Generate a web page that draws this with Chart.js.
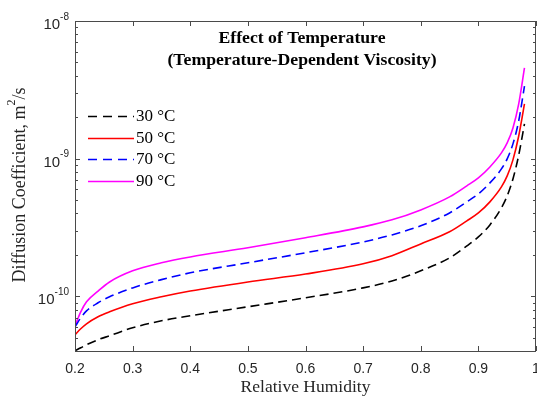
<!DOCTYPE html>
<html><head><meta charset="utf-8">
<script src="https://cdn.jsdelivr.net/npm/chart.js@4/dist/chart.umd.min.js"></script>
<style>html,body{margin:0;padding:0;background:#fff}canvas{display:block}</style>
</head><body>
<canvas id="c" width="537" height="397"></canvas>
<script>
// Relative humidity (x)
const rh = [0.20,0.21,0.22,0.24,0.26,0.30,0.35,0.40,0.50,0.60,0.70,0.75,0.80,0.85,0.88,0.90,0.92,0.94,0.95,0.96,0.97,0.98];
// Diffusion coefficient, m^2/s
const d30 = [4.02e-11,4.22e-11,4.44e-11,4.83e-11,5.16e-11,5.90e-11,6.63e-11,7.21e-11,8.38e-11,9.74e-11,1.15e-10,1.29e-10,1.53e-10,1.90e-10,2.32e-10,2.70e-10,3.30e-10,4.39e-10,5.36e-10,7.12e-10,1.06e-9,1.79e-9];
const d50 = [5.25e-11,5.80e-11,6.30e-11,7.09e-11,7.70e-11,8.81e-11,9.90e-11,1.09e-10,1.27e-10,1.45e-10,1.72e-10,1.97e-10,2.40e-10,2.94e-10,3.53e-10,4.03e-10,4.85e-10,6.23e-10,7.49e-10,9.79e-10,1.46e-9,2.50e-9];
const d70 = [6.00e-11,6.97e-11,7.83e-11,8.96e-11,9.90e-11,1.15e-10,1.32e-10,1.48e-10,1.75e-10,2.07e-10,2.48e-10,2.79e-10,3.25e-10,4.03e-10,4.85e-10,5.54e-10,6.66e-10,8.42e-10,9.95e-10,1.28e-9,1.88e-9,3.37e-9];
const d90 = [6.10e-11,7.70e-11,9.11e-11,1.09e-10,1.27e-10,1.53e-10,1.75e-10,1.93e-10,2.25e-10,2.66e-10,3.19e-10,3.59e-10,4.24e-10,5.27e-10,6.34e-10,7.24e-10,8.70e-10,1.10e-9,1.30e-9,1.67e-9,2.50e-9,4.56e-9];
const seriesLabels = ['30 °C','50 °C','70 °C','90 °C'];
const xTicks = [0.2,0.3,0.4,0.5,0.6,0.7,0.8,0.9,1.0];
const xTickLabels = ['0.2','0.3','0.4','0.5','0.6','0.7','0.8','0.9','1'];
const yDecadeExps = [-10,-9,-8];
const titleLines = ['Effect of Temperature','(Temperature-Dependent Viscosity)'];
const xTitle = 'Relative Humidity';
const yTitleParts = ['Diffusion Coefficient, m','2','/s'];

const pts = arr => arr.map((v,i)=>({x:rh[i],y:v}));
const styles = [
  {c:'#000000',dash:[9,5]},
  {c:'#ff0000',dash:[]},
  {c:'#0000ff',dash:[9,5]},
  {c:'#ff00ff',dash:[]}
];
const allData = [d30,d50,d70,d90];

const AX = '#4a4a4a';
const TXT = '#262626';
const SANS = '"Liberation Sans", Arial, sans-serif';
const SERIF = '"Liberation Serif", "Times New Roman", serif';

const deco = {
  id:'deco',
  afterDatasetsDraw(chart){
    const ctx = chart.ctx, a = chart.chartArea;
    const xs = chart.scales.x, ys = chart.scales.y;
    ctx.save();
    // title
    ctx.fillStyle = '#000';
    ctx.font = 'bold 17.7px ' + SERIF;
    ctx.textAlign = 'center'; ctx.textBaseline = 'middle';
    ctx.fillText(titleLines[0], 302, 38);
    ctx.fillText(titleLines[1], 302, 60);
    // legend
    ctx.font = '17px ' + SERIF;
    ctx.textAlign = 'left';
    for (let i=0;i<4;i++){
      const y = 116 + i*21.5;
      ctx.strokeStyle = styles[i].c; ctx.lineWidth = 1.6;
      ctx.setLineDash(styles[i].dash.length? [9,6] : []);
      ctx.beginPath(); ctx.moveTo(88, Math.round(y)+0.5); ctx.lineTo(134, Math.round(y)+0.5); ctx.stroke();
      ctx.setLineDash([]);
      ctx.fillStyle = '#000';
      ctx.fillText(seriesLabels[i], 136, y+1);
    }
    // frame
    ctx.strokeStyle = AX; ctx.lineWidth = 1;
    ctx.strokeRect(Math.round(a.left)+0.5, Math.round(a.top)+0.5, Math.round(a.right-a.left)-1, Math.round(a.bottom-a.top));
    // x ticks
    ctx.fillStyle = TXT; ctx.font = '14px ' + SANS;
    ctx.textAlign = 'center'; ctx.textBaseline = 'middle';
    xTicks.forEach((v,i)=>{
      const px = Math.round(xs.getPixelForValue(v))+0.5;
      ctx.beginPath();
      ctx.moveTo(px, a.bottom); ctx.lineTo(px, a.bottom-5);
      ctx.moveTo(px, a.top); ctx.lineTo(px, a.top+5);
      ctx.stroke();
      ctx.fillText(xTickLabels[i], xs.getPixelForValue(v), a.bottom+18);
    });
    // y ticks (log)
    for (let e=-11;e<=-8;e++){
      for (let m=1;m<=9;m++){
        const v = m*Math.pow(10,e);
        if (v < ys.min*0.999 || v > ys.max*1.001) continue;
        const py = Math.round(ys.getPixelForValue(v))+0.5;
        const L = m===1?5:3;
        ctx.beginPath();
        ctx.moveTo(a.left, py); ctx.lineTo(a.left+L, py);
        ctx.moveTo(a.right, py); ctx.lineTo(a.right-L, py);
        ctx.stroke();
      }
    }
    yDecadeExps.forEach(e=>{
      const py = ys.getPixelForValue(Math.pow(10,e));
      const sup = String(e);
      ctx.font = '10px ' + SANS;
      const ws = ctx.measureText(sup).width;
      ctx.textAlign = 'right'; ctx.textBaseline = 'middle';
      ctx.fillText(sup, 69, py-4);
      ctx.font = '15px ' + SANS;
      ctx.fillText('10', 69-ws, py+4);
    });
    // axis titles
    ctx.fillStyle = TXT;
    ctx.font = '17.5px ' + SERIF;
    ctx.textAlign = 'center'; ctx.textBaseline = 'middle';
    ctx.fillText(xTitle, (a.left+a.right)/2, 387);
    ctx.save();
    ctx.translate(20, (a.top+a.bottom)/2 - 1);
    ctx.rotate(-Math.PI/2);
    ctx.font = '18px ' + SERIF;
    const w0 = ctx.measureText(yTitleParts[0]).width;
    const w2 = ctx.measureText(yTitleParts[2]).width;
    ctx.font = '12px ' + SERIF;
    const w1 = ctx.measureText(yTitleParts[1]).width;
    const tot = w0+w1+w2;
    let x0 = -tot/2;
    ctx.textAlign = 'left';
    ctx.font = '18px ' + SERIF;
    ctx.fillText(yTitleParts[0], x0, 0);
    ctx.font = '12px ' + SERIF;
    ctx.fillText(yTitleParts[1], x0+w0, -8);
    ctx.font = '18px ' + SERIF;
    ctx.fillText(yTitleParts[2], x0+w0+w1, 0);
    ctx.restore();
    ctx.restore();
  }
};

new Chart(document.getElementById('c'), {
  type:'line',
  data:{
    datasets: allData.map((arr,i)=>({
      label: seriesLabels[i],
      data: pts(arr),
      borderColor: styles[i].c,
      backgroundColor: styles[i].c,
      borderWidth: 1.6,
      borderDash: styles[i].dash,
      pointRadius: 0,
      fill: false,
      cubicInterpolationMode: 'monotone'
    }))
  },
  options:{
    responsive:false,
    animation:false,
    events:[],
    layout:{padding:{left:75,top:21,right:1,bottom:46}},
    plugins:{legend:{display:false},tooltip:{enabled:false}},
    scales:{
      x:{type:'linear',min:0.2,max:1.0,display:false},
      y:{type:'logarithmic',min:4e-11,max:1e-8,display:false}
    }
  },
  plugins:[deco]
});
</script>
</body></html>
